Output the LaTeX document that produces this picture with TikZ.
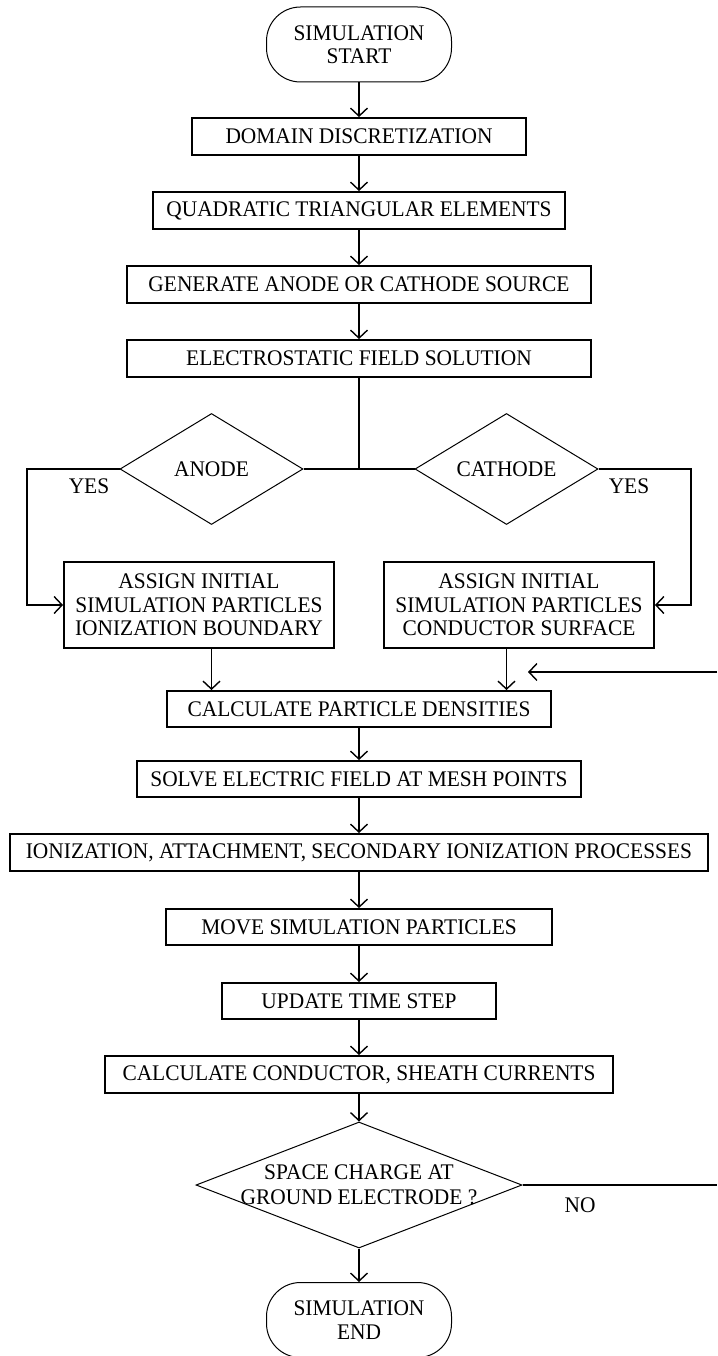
\documentclass[tikz,border=0pt]{standalone}
\usepackage{fontspec}
\setmainfont{Liberation Serif}[FakeStretch=0.96]
\usetikzlibrary{arrows.meta,shapes.geometric}
\begin{document}
\begin{tikzpicture}[x=1pt,y=-1pt,
  font=\fontsize{22.3}{23.5}\selectfont,
  box/.style={draw, line width=1.9pt, rectangle, inner sep=0pt, align=center, minimum height=37pt},
  term/.style={draw, line width=1pt, rounded corners=34pt, minimum width=185pt, minimum height=75pt, align=center, inner sep=0pt},
  dec/.style={draw, line width=1pt, diamond, inner sep=0pt},
  conn/.style={line width=1.7pt},
  arr/.style={conn, -{Straight Barb[length=8pt,width=17pt,line width=1.4pt]}},
  lbl/.style={inner sep=0pt, align=center}]
\useasboundingbox (0,0) rectangle (717,1356);

% main column
\node[term] (start) at (359,44.5) {SIMULATION\\START};
\node[box, minimum width=334pt] (b1) at (359,136.5) {DOMAIN DISCRETIZATION};
\node[box, minimum width=412pt] (b2) at (359,210.5) {QUADRATIC TRIANGULAR ELEMENTS};
\node[box, minimum width=464pt] (b3) at (359,284.5) {GENERATE ANODE OR CATHODE SOURCE};
\node[box, minimum width=464pt] (b4) at (359,358.5) {ELECTROSTATIC FIELD SOLUTION};

\draw[arr] (start) -- (b1);
\draw[arr] (b1) -- (b2);
\draw[arr] (b2) -- (b3);
\draw[arr] (b3) -- (b4);

% branch
\coordinate (j) at (359,469);
\node[dec, minimum width=183pt, minimum height=111pt] (anode) at (211.5,469) {};
\node[lbl] (anodet) at (anode.center) {ANODE};
\node[dec, minimum width=183pt, minimum height=111pt] (cathode) at (506.5,469) {};
\node[lbl] (cathodet) at (cathode.center) {CATHODE};
\draw[conn] (b4.south) -- (j);
\draw[conn] (anode.east) -- (cathode.west);

\node[box, minimum width=270pt, minimum height=86pt] (la) at (199,605)
  {ASSIGN INITIAL\\SIMULATION PARTICLES\\IONIZATION BOUNDARY};
\node[box, minimum width=270pt, minimum height=86pt] (ra) at (519,605)
  {ASSIGN INITIAL\\SIMULATION PARTICLES\\CONDUCTOR SURFACE};

\coordinate (lc) at (27,469);
\coordinate (rc) at (691,469);
\draw[arr] (anode.west) -- (lc) |- (la.west);
\draw[arr] (cathode.east) -- (rc) |- (ra.east);
\node[lbl] (yes1) at (89,486) {YES};
\node[lbl] (yes2) at (629,486) {YES};

\node[box, minimum width=384pt, minimum height=36pt] (c1) at (359,709) {CALCULATE PARTICLE DENSITIES};
\draw[arr] (anode |- la.south) -- (anode |- c1.north);
\draw[arr] (cathode |- ra.south) -- (cathode |- c1.north);

\coordinate (ret) at (717,672);
\coordinate (rettip) at (528,672);
\draw[arr] (ret) -- (rettip);

\node[box, minimum width=444pt, minimum height=36pt] (b6) at (359,779) {SOLVE ELECTRIC FIELD AT MESH POINTS};
\node[box, minimum width=698pt] (b7) at (359,852.5) {IONIZATION, ATTACHMENT, SECONDARY IONIZATION PROCESSES};
\node[box, minimum width=386pt, minimum height=36pt] (b8) at (359,927) {MOVE SIMULATION PARTICLES};
\node[box, minimum width=274pt, minimum height=36pt] (b9) at (359,1001) {UPDATE TIME STEP};
\node[box, minimum width=508pt] (b10) at (359,1074.5) {CALCULATE CONDUCTOR, SHEATH CURRENTS};

\draw[arr] (c1) -- (b6);
\draw[arr] (b6) -- (b7);
\draw[arr] (b7) -- (b8);
\draw[arr] (b8) -- (b9);
\draw[arr] (b9) -- (b10);

\node[dec, minimum width=326pt, minimum height=126pt] (sc) at (359,1185) {};
\node[lbl, font=\fontsize{22.3}{25}\selectfont] (sct) at (359,1184.5) {SPACE CHARGE AT\\GROUND ELECTRODE ?};
\draw[arr] (b10) -- (sc.north);

\coordinate (noend) at (717,1185);
\draw[conn] (sc.east) -- (noend);
\node[lbl] (no) at (580,1205) {NO};

\node[term] (end) at (359,1320) {SIMULATION\\END};
\draw[arr] (sc.south) -- (end.north);
\end{tikzpicture}
\end{document}
